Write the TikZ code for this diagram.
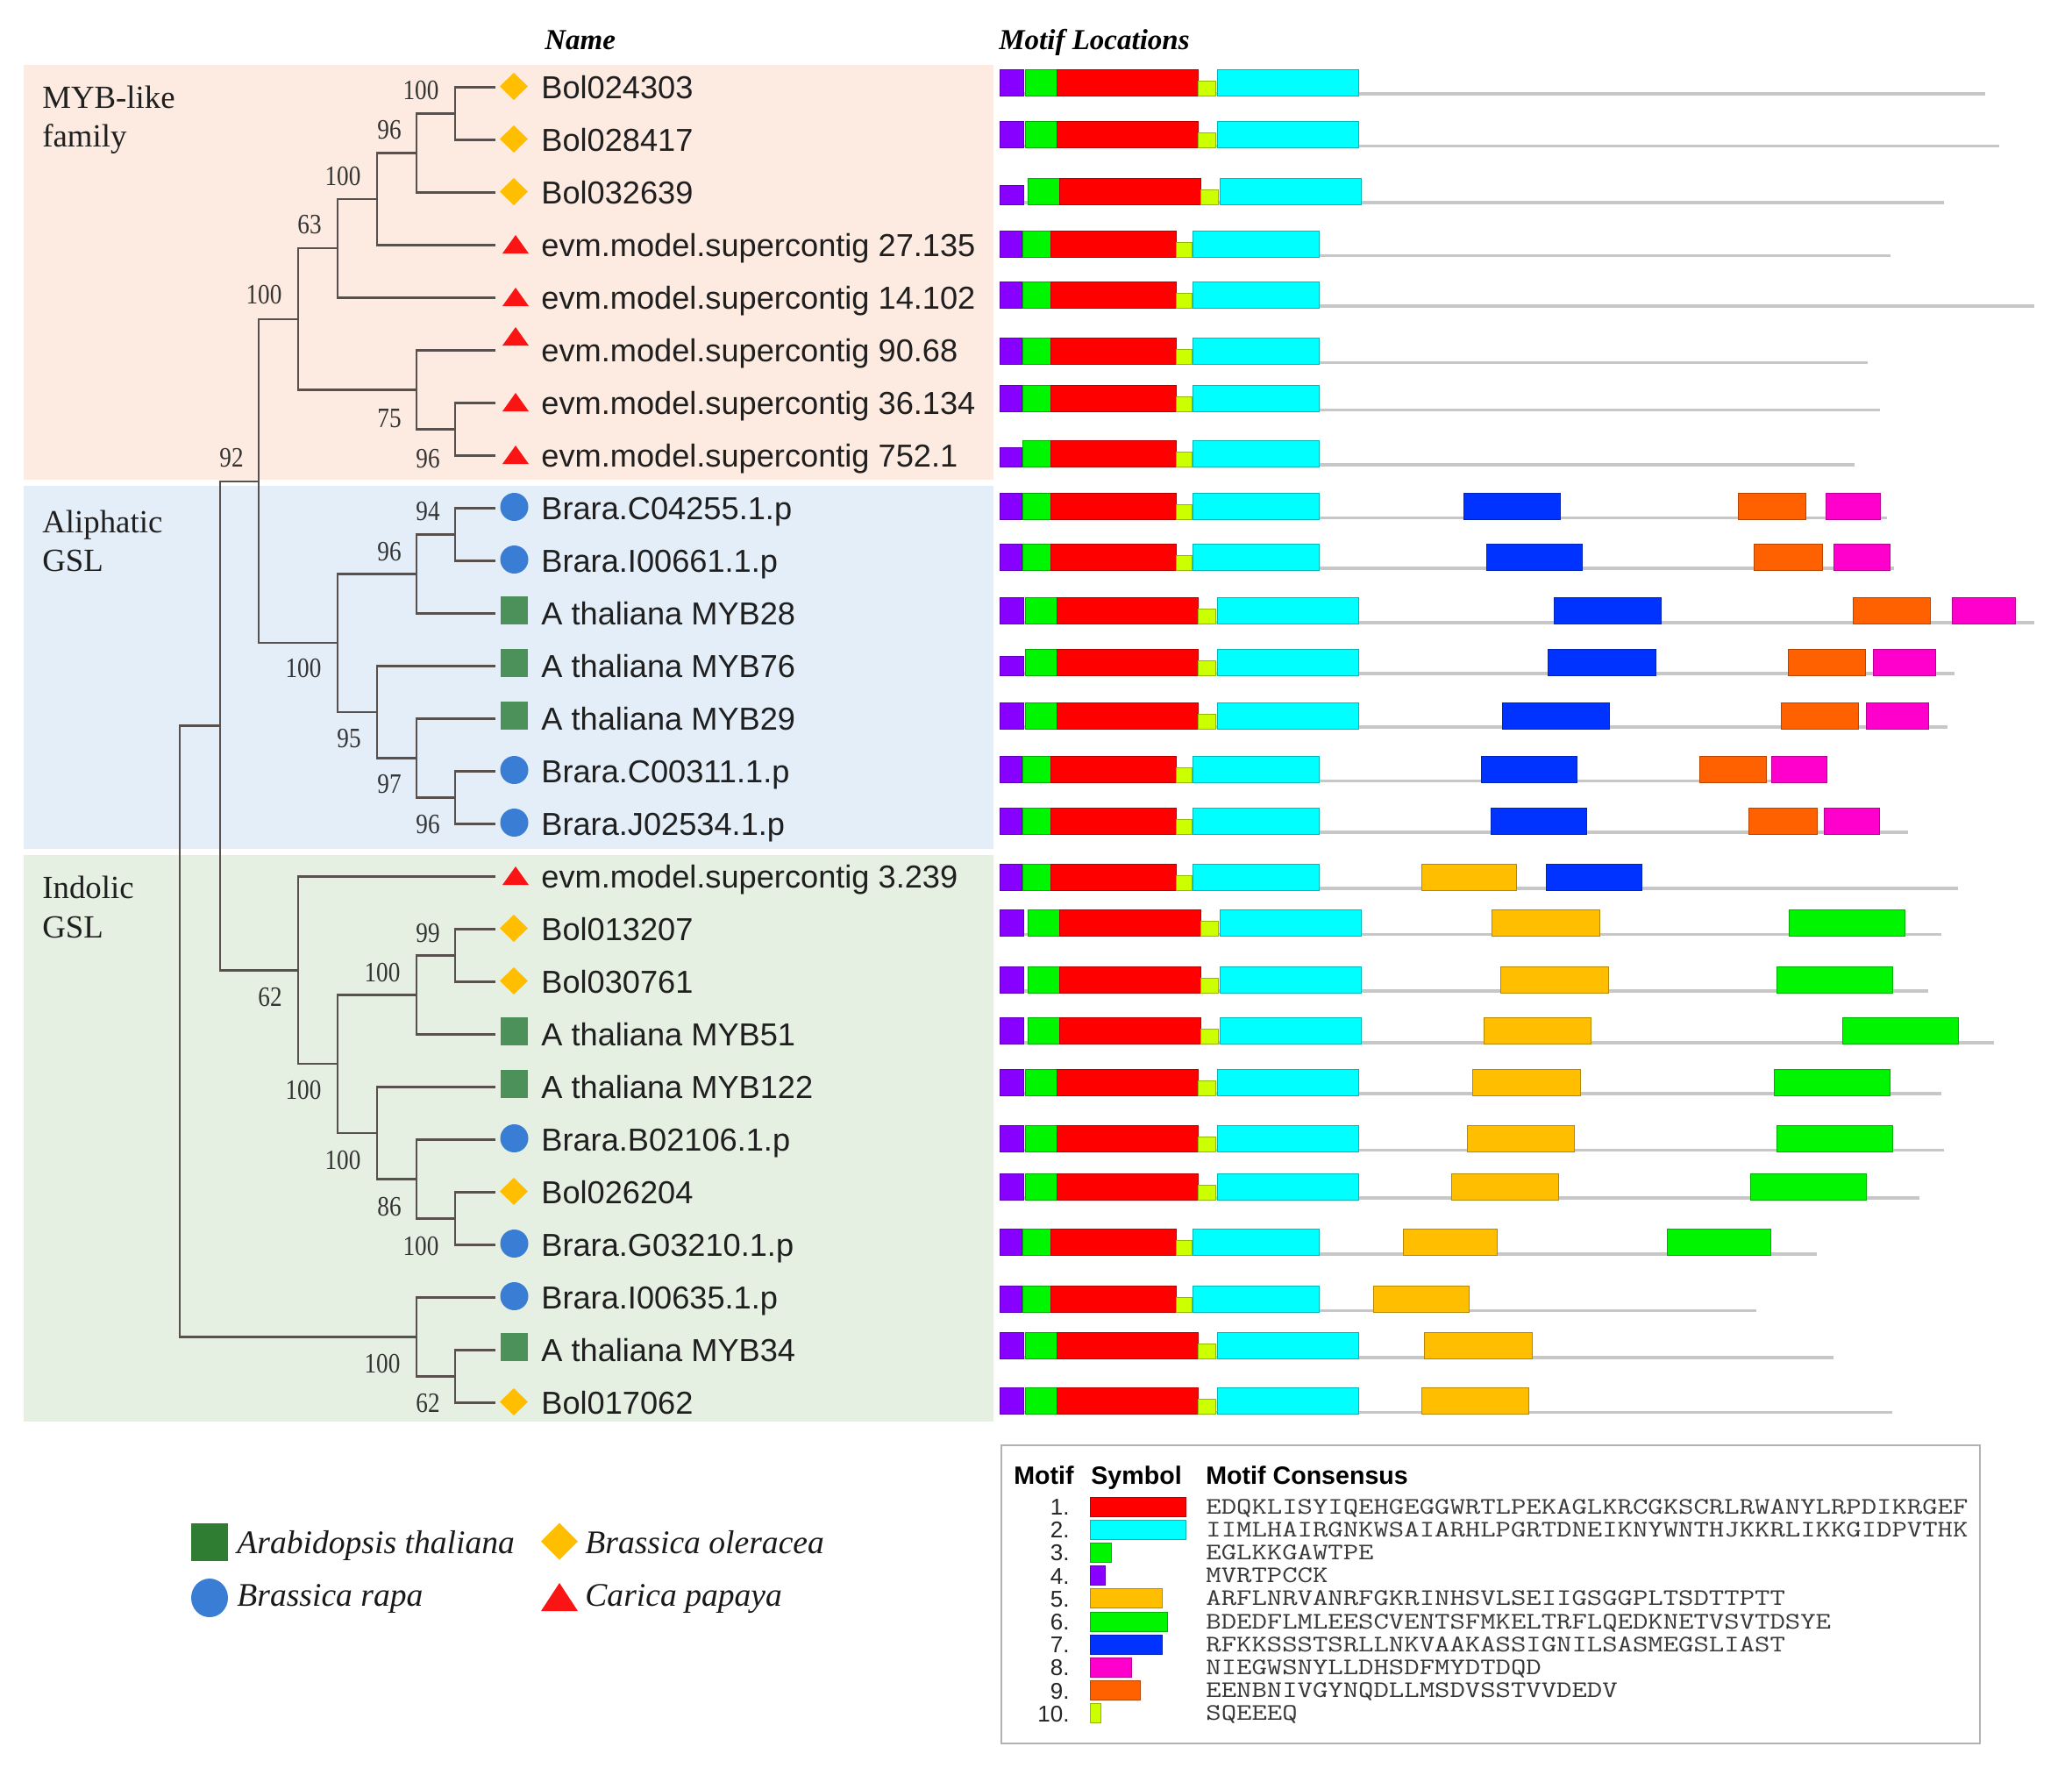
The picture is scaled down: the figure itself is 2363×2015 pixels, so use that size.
\documentclass[tikz,border=0pt]{standalone}
\usepackage{fontspec}
\setmainfont{Liberation Serif}
\newfontfamily\lsans{Liberation Sans}
\usepackage{graphicx}
\usetikzlibrary{calc}

\definecolor{bandP}{RGB}{253,235,225}
\definecolor{bandB}{RGB}{227,238,248}
\definecolor{bandG}{RGB}{230,240,226}
\definecolor{treecol}{RGB}{88,80,76}
\definecolor{colD}{RGB}{255,190,0}
\definecolor{colC}{RGB}{58,125,213}
\definecolor{colS}{RGB}{76,145,90}
\definecolor{colSL}{RGB}{46,125,50}
\definecolor{colT}{RGB}{250,20,20}
\definecolor{mot1}{RGB}{255,0,0}
\definecolor{mot2}{RGB}{0,255,255}
\definecolor{mot3}{RGB}{0,245,0}
\definecolor{mot4}{RGB}{136,0,255}
\definecolor{mot5}{RGB}{255,190,0}
\definecolor{mot6}{RGB}{0,245,0}
\definecolor{mot7}{RGB}{0,51,255}
\definecolor{mot8}{RGB}{255,0,204}
\definecolor{mot9}{RGB}{255,96,0}
\definecolor{mot10}{RGB}{204,255,0}

\newcommand\symD[1]{\fill[colD] (586,#1-16.5) -- (602,#1-1) -- (586,#1+14.5) -- (570,#1-1) -- cycle;}
\newcommand\symC[1]{\fill[colC] (586.5,#1-1.5) circle[radius=8pt];}
\newcommand\symS[1]{\fill[colS] (571,#1-19.5) rectangle (602,#1+12);}
\newcommand\symT[1]{\fill[colT] (588,#1-11.5) -- (603,#1+9.5) -- (573,#1+9.5) -- cycle;}
\newcommand\symU[1]{\symT{#1-15}}

\newcommand\mbx[5]{\filldraw[fill=#1,draw=#1!72!black,line width=0.4pt] (#2,#4-#5) rectangle (#3,#4);}
\newcommand\sqln[2]{\draw[seqln] (1140,#1-2) -- (#2,#1-2);}
\newcommand\rowA[4]{\sqln{#1}{#4}%
  \mbx{mot4}{1140}{1167}{#1}{#3}%
  \mbx{mot3}{1169+#2}{1205+#2}{#1}{30}%
  \mbx{mot1}{1205+#2}{1366+#2}{#1}{30}%
  \mbx{mot10}{1366+#2}{1386+#2}{#1}{17}%
  \mbx{mot2}{1388+#2}{1549+#2}{#1}{30}}
\newcommand\rowB[3]{\sqln{#1}{#3}%
  \mbx{mot4}{1140}{1165}{#1}{#2}%
  \mbx{mot3}{1166}{1198}{#1}{30}%
  \mbx{mot1}{1198}{1341}{#1}{30}%
  \mbx{mot10}{1341}{1359}{#1}{17}%
  \mbx{mot2}{1360}{1504}{#1}{30}}

\tikzset{
  br/.style={draw=treecol,line width=1.1pt},
  leaf/.style={anchor=base west,inner sep=0,font=\lsans\fontsize{18.1}{20}\selectfont,text=black!88},
  boot/.style={inner sep=0,font=\fontsize{16}{16}\selectfont,text=black!80},
  grp/.style={anchor=base west,inner sep=0,font=\fontsize{18.4}{20}\selectfont,text=black!88},
  head/.style={anchor=base west,inner sep=0,font=\fontsize{16.5}{18}\selectfont\bfseries\itshape},
  seqln/.style={draw=black!22,line width=1.8pt},
  spec/.style={anchor=base west,inner sep=0,font=\fontsize{18.8}{20}\selectfont\itshape,text=black!90},
  lhead/.style={anchor=base west,inner sep=0,font=\lsans\bfseries\fontsize{14.3}{15}\selectfont},
  lnum/.style={anchor=base east,inner sep=0,font=\lsans\fontsize{13}{14}\selectfont,text=black!85},
  lcons/.style={anchor=base west,inner sep=0,font=\ttfamily\fontsize{13.5}{14}\selectfont,text=black!78},
  legbox/.style={draw=black!30,line width=1.4pt}
}

\begin{document}
\begin{tikzpicture}[x=0.5pt,y=-0.5pt]
\useasboundingbox (0,0) rectangle (2363,2015);
\fill[white] (0,0) rectangle (2363,2015);

% group bands
\fill[bandP] (27,74) rectangle (1133,547);
\fill[bandB] (27,554) rectangle (1133,968);
\fill[bandG] (27,975) rectangle (1133,1621);

% headers
\node[head] (hname) at (621,56) {Name};
\node[head] (hmotif) at (1139,56) {Motif Locations};

% group labels
\node[grp] (g1a) at (48,123) {MYB-like};
\node[grp] (g1b) at (48,167) {family};
\node[grp] (g2a) at (48,607) {Aliphatic};
\node[grp] (g2b) at (48,651) {GSL};
\node[grp] (g3a) at (48,1024) {Indolic};
\node[grp] (g3b) at (48,1069) {GSL};

% leaves
\foreach \ii/\nm/\sy in {
 0/Bol024303/D, 1/Bol028417/D, 2/Bol032639/D,
 3/evm.model.supercontig 27.135/T, 4/evm.model.supercontig 14.102/T,
 5/evm.model.supercontig 90.68/U, 6/evm.model.supercontig 36.134/T,
 7/evm.model.supercontig 752.1/T,
 8/Brara.C04255.1.p/C, 9/Brara.I00661.1.p/C, 10/A thaliana MYB28/S,
 11/A thaliana MYB76/S, 12/A thaliana MYB29/S, 13/Brara.C00311.1.p/C,
 14/Brara.J02534.1.p/C,
 15/evm.model.supercontig 3.239/T, 16/Bol013207/D, 17/Bol030761/D,
 18/A thaliana MYB51/S, 19/A thaliana MYB122/S, 20/Brara.B02106.1.p/C,
 21/Bol026204/D, 22/Brara.G03210.1.p/C, 23/Brara.I00635.1.p/C,
 24/A thaliana MYB34/S, 25/Bol017062/D}{
  \pgfmathsetmacro\yy{99.5+60*\ii}
  \coordinate (T\ii) at (565,\yy);
  \node[leaf] (L\ii) at (617,\yy+13) {\nm};
  \csname sym\sy\endcsname{\yy}
}

% internal nodes
\coordinate (N1) at (519,129.5);
\coordinate (N2) at (475,174.5);
\coordinate (N3) at (430,227);
\coordinate (N4) at (385,283.25);
\coordinate (N5) at (519,489.5);
\coordinate (N6) at (475,444.5);
\coordinate (N7) at (340,363.9);
\coordinate (N8) at (519,609.5);
\coordinate (N9) at (475,654.5);
\coordinate (N10) at (519,909.5);
\coordinate (N11) at (475,864.5);
\coordinate (N12) at (430,812);
\coordinate (N13) at (385,733.25);
\coordinate (N14) at (295,548.6);
\coordinate (N15) at (519,1089.5);
\coordinate (N16) at (475,1134.5);
\coordinate (N17) at (519,1389.5);
\coordinate (N18) at (475,1344.5);
\coordinate (N19) at (430,1292);
\coordinate (N20) at (385,1213.25);
\coordinate (N21) at (340,1106.4);
\coordinate (N22) at (251,827.5);
\coordinate (N23) at (519,1569.5);
\coordinate (N24) at (475,1524.5);
\coordinate (N25) at (205,1176);

\foreach \p/\c in {N1/T0,N1/T1,N2/N1,N2/T2,N3/N2,N3/T3,N4/N3,N4/T4,
  N5/T6,N5/T7,N6/T5,N6/N5,N7/N4,N7/N6,N8/T8,N8/T9,N9/N8,N9/T10,
  N10/T13,N10/T14,N11/T12,N11/N10,N12/T11,N12/N11,N13/N9,N13/N12,
  N14/N7,N14/N13,N15/T16,N15/T17,N16/N15,N16/T18,N17/T21,N17/T22,
  N18/T20,N18/N17,N19/T19,N19/N18,N20/N16,N20/N19,N21/T15,N21/N20,
  N22/N14,N22/N21,N23/T24,N23/T25,N24/T23,N24/N23,N25/N22,N25/N24}
  \draw[br] (\p) |- (\c);

% bootstrap values
\foreach \nn/\bx/\by/\bv in {1/480/103/100, 2/444/148/96, 3/391/201/100,
  4/353/256/63, 7/301/336/100, 6/444/477/75, 5/488/523/96, 14/264/522/92,
  8/488/583/94, 9/444/629/96, 13/346/762/100, 12/398/842/95, 11/444/894/97,
  10/488/940/96, 15/488/1064/99, 16/436/1109/100, 21/308/1137/62,
  20/346/1243/100, 19/391/1323/100, 18/444/1376/86, 17/480/1421/100,
  24/436/1555/100, 23/488/1600/62}
  \node[boot] (B\nn) at (\bx,\by) {\scalebox{0.85}[1]{\bv}};

% motif rows
\rowA{109}{0}{30}{2264}
\rowA{168.6}{0}{30}{2280}
\rowA{233}{3}{22}{2217}
\rowB{293.6}{30}{2156}
\rowB{351}{30}{2320}
\rowB{415.4}{30}{2130}
\rowB{469.6}{30}{2144}
\rowB{532}{22}{2115}
\rowB{592.3}{30}{2152}
\mbx{mot7}{1669}{1779}{592.3}{30}\mbx{mot9}{1982}{2059}{592.3}{30}\mbx{mot8}{2082}{2144}{592.3}{30}
\rowB{650}{30}{2160}
\mbx{mot7}{1695}{1804}{650}{30}\mbx{mot9}{2000}{2078}{650}{30}\mbx{mot8}{2091}{2155}{650}{30}
\rowA{711.7}{0}{30}{2320}
\mbx{mot7}{1772}{1894}{711.7}{30}\mbx{mot9}{2113}{2201}{711.7}{30}\mbx{mot8}{2226}{2298}{711.7}{30}
\rowA{770}{0}{22}{2229}
\mbx{mot7}{1765}{1888}{770}{30}\mbx{mot9}{2039}{2127}{770}{30}\mbx{mot8}{2136}{2207}{770}{30}
\rowA{831}{0}{30}{2221}
\mbx{mot7}{1713}{1835}{831}{30}\mbx{mot9}{2031}{2119}{831}{30}\mbx{mot8}{2128}{2199}{831}{30}
\rowB{892.3}{30}{2083}
\mbx{mot7}{1689}{1798}{892.3}{30}\mbx{mot9}{1938}{2014}{892.3}{30}\mbx{mot8}{2020}{2083}{892.3}{30}
\rowB{951}{30}{2176}
\mbx{mot7}{1700}{1809}{951}{30}\mbx{mot9}{1994}{2072}{951}{30}\mbx{mot8}{2080}{2143}{951}{30}
\rowB{1015}{30}{2233}
\mbx{mot5}{1621}{1729}{1015}{30}\mbx{mot7}{1763}{1872}{1015}{30}
\rowA{1067.5}{3}{30}{2214}
\mbx{mot5}{1701}{1824}{1067.5}{30}\mbx{mot6}{2040}{2172}{1067.5}{30}
\rowA{1132}{3}{30}{2199}
\mbx{mot5}{1711}{1834}{1132}{30}\mbx{mot6}{2026}{2158}{1132}{30}
\rowA{1190.7}{3}{30}{2274}
\mbx{mot5}{1692}{1814}{1190.7}{30}\mbx{mot6}{2101}{2233}{1190.7}{30}
\rowA{1249}{0}{30}{2214}
\mbx{mot5}{1679}{1802}{1249}{30}\mbx{mot6}{2023}{2155}{1249}{30}
\rowA{1313.4}{0}{30}{2217}
\mbx{mot5}{1673}{1795}{1313.4}{30}\mbx{mot6}{2026}{2158}{1313.4}{30}
\rowA{1368}{0}{30}{2189}
\mbx{mot5}{1655}{1777}{1368}{30}\mbx{mot6}{1996}{2128}{1368}{30}
\rowB{1431.8}{30}{2072}
\mbx{mot5}{1600}{1707}{1431.8}{30}\mbx{mot6}{1901}{2019}{1431.8}{30}
\rowB{1496.4}{30}{2003}
\mbx{mot5}{1566}{1675}{1496.4}{30}
\rowA{1549.8}{0}{30}{2091}
\mbx{mot5}{1624}{1747}{1549.8}{30}
\rowA{1612.6}{0}{30}{2158}
\mbx{mot5}{1621}{1743}{1612.6}{30}

% species legend
\fill[colSL] (218,1737) rectangle (260,1780);
\node[spec] (sp1) at (270,1771) {Arabidopsis thaliana};
\fill[colD] (638,1736.5) -- (659,1757.5) -- (638,1778.5) -- (617,1757.5) -- cycle;
\node[spec] (sp2) at (667,1771) {Brassica oleracea};
\fill[colC] (239,1822) ellipse[x radius=21, y radius=22];
\node[spec] (sp3) at (270,1831) {Brassica rapa};
\fill[colT] (638,1805) -- (659,1837) -- (617,1837) -- cycle;
\node[spec] (sp4) at (667,1831) {Carica papaya};

% motif legend
\draw[legbox] (1142,1648) rectangle (2258,1988);
\node[lhead] (lh1) at (1156,1692) {Motif};
\node[lhead] (lh2) at (1244,1692) {Symbol};
\node[lhead] (lh3) at (1375,1692) {Motif Consensus};
\foreach \k/\cc/\w/\sq in {
 1/mot1/109/EDQKLISYIQEHGEGGWRTLPEKAGLKRCGKSCRLRWANYLRPDIKRGEF,
 2/mot2/109/IIMLHAIRGNKWSAIARHLPGRTDNEIKNYWNTHJKKRLIKKGIDPVTHK,
 3/mot3/24/EGLKKGAWTPE,
 4/mot4/17/MVRTPCCK,
 5/mot5/82/ARFLNRVANRFGKRINHSVLSEIIGSGGPLTSDTTPTT,
 6/mot6/88/BDEDFLMLEESCVENTSFMKELTRFLQEDKNETVSVTDSYE,
 7/mot7/82/RFKKSSSTSRLLNKVAAKASSIGNILSASMEGSLIAST,
 8/mot8/47/NIEGWSNYLLDHSDFMYDTDQD,
 9/mot9/57/EENBNIVGYNQDLLMSDVSSTVVDEDV,
 10/mot10/12/SQEEEQ}{
  \pgfmathsetmacro\yk{1718+26.2*(\k-1)}
  \node[lnum] (num\k) at (1220,\yk+9.5) {\k.};
  \filldraw[fill=\cc,draw=\cc!72!black,line width=0.5pt] (1243,\yk-11) rectangle (1243+\w,\yk+11);
  \node[lcons] (cons\k) at (1375,\yk+8) {\scalebox{1.25}[1]{\sq}};
}
\end{tikzpicture}
\end{document}
